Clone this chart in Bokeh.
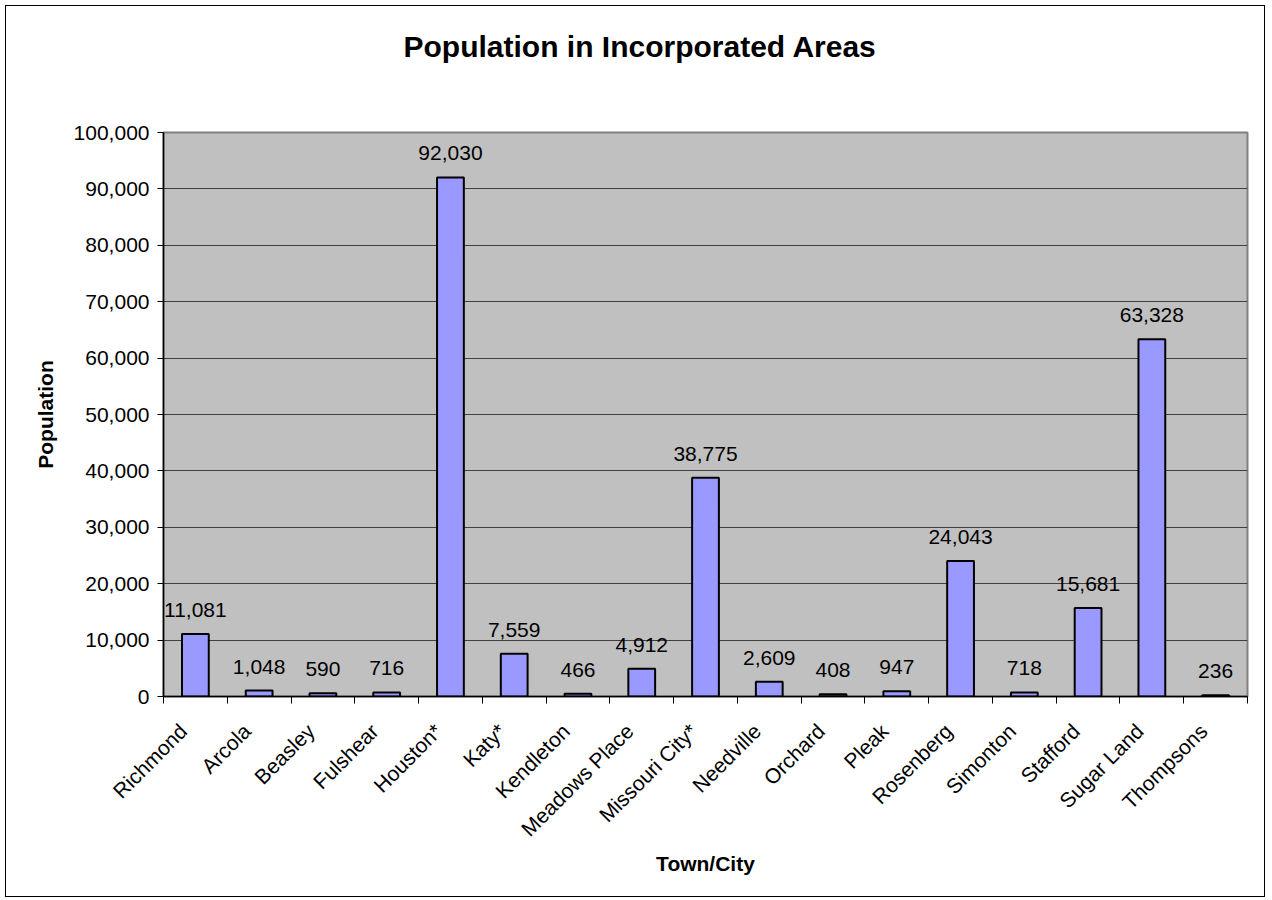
import math
from bokeh.plotting import figure
from bokeh.models import ColumnDataSource, FixedTicker, NumeralTickFormatter, Range1d, Title
from bokeh.core.properties import value
from bokeh.embed import file_html
from bokeh.resources import INLINE

towns = ["Richmond", "Arcola", "Beasley", "Fulshear", "Houston*", "Katy*", "Kendleton",
         "Meadows Place", "Missouri City*", "Needville", "Orchard", "Pleak", "Rosenberg",
         "Simonton", "Stafford", "Sugar Land", "Thompsons"]
population = [11081, 1048, 590, 716, 92030, 7559, 466, 4912, 38775, 2609, 408, 947,
              24043, 718, 15681, 63328, 236]
y_ticks = [0, 10000, 20000, 30000, 40000, 50000, 60000, 70000, 80000, 90000, 100000]
title_text = "Population in Incorporated Areas"

FONT = "Liberation Sans"
n = len(towns)
centers = [i + 0.5 for i in range(n)]
bounds = [float(i) for i in range(n + 1)]
label_pos = [c - 0.19 for c in centers]

src = ColumnDataSource(dict(x=centers, top=population,
                            label=[f"{v:,}" for v in population]))

W, H = 1260, 892
MBL, MBR, MBT, MBB = 157, 19, 126, 202
p = figure(width=W, height=H, output_backend="svg", toolbar_location=None,
           x_range=Range1d(0, n), y_range=Range1d(0, 100000),
           min_border_left=MBL, min_border_right=MBR, min_border_top=MBT, min_border_bottom=MBB,
           background_fill_color="#C0C0C0", border_fill_color="white")
p.styles = {"border": "1px solid black", "margin-left": "5px", "margin-top": "5px"}

# spacer between the frame and the title
p.add_layout(Title(text=" ", text_font_size="10px", standoff=52), "above")

p.title.text = title_text
p.title.text_font = FONT
p.title.text_font_size = "30px"
p.title.text_font_style = "bold"
p.title.text_color = "black"
p.title.align = "left"
p.title.offset = 240
p.title.standoff = 10

p.outline_line_color = "#808080"
p.outline_line_width = 2

p.vbar(x="x", top="top", width=0.42, bottom=0, source=src,
       fill_color="#9999FF", line_color="black", line_width=2)
p.text(x="x", y="top", text="label", source=src, text_align="center",
       text_baseline="alphabetic", y_offset=-24, text_font=value(FONT),
       text_font_size="21px", text_color="black")

# y axis
p.yaxis.ticker = FixedTicker(ticks=y_ticks)
p.yaxis.formatter = NumeralTickFormatter(format="0,0")
p.yaxis.major_tick_out = 6
p.yaxis.major_tick_in = 0
p.yaxis.minor_tick_line_color = None
p.yaxis.axis_line_color = "black"
p.yaxis.axis_line_width = 1.5
p.yaxis.major_tick_line_color = "black"
p.yaxis.major_label_text_font = FONT
p.yaxis.major_label_text_font_size = "21px"
p.yaxis.major_label_text_color = "black"
p.yaxis.major_label_standoff = 8
p.yaxis.axis_label = "Population"
p.yaxis.axis_label_text_font = FONT
p.yaxis.axis_label_text_font_size = "21px"
p.yaxis.axis_label_text_font_style = "bold"
p.yaxis.axis_label_text_color = "black"
p.yaxis.axis_label_standoff = 14

# x axis
p.xaxis.ticker = FixedTicker(ticks=label_pos, minor_ticks=bounds)
p.xaxis.major_label_overrides = {c: t for c, t in zip(label_pos, towns)}
p.xaxis.major_tick_line_color = None
p.xaxis.major_tick_out = 0
p.xaxis.major_tick_in = 0
p.xaxis.minor_tick_out = 7
p.xaxis.minor_tick_in = 0
p.xaxis.minor_tick_line_color = "black"
p.xaxis.axis_line_color = "black"
p.xaxis.axis_line_width = 1.5
p.xaxis.major_label_orientation = math.pi / 4
p.xaxis.major_label_text_font = FONT
p.xaxis.major_label_text_font_size = "21px"
p.xaxis.major_label_text_color = "black"
p.xaxis.major_label_standoff = 24
p.xaxis.axis_label = "Town/City"
p.xaxis.axis_label_text_font = FONT
p.xaxis.axis_label_text_font_size = "21px"
p.xaxis.axis_label_text_font_style = "bold"
p.xaxis.axis_label_text_color = "black"
p.xaxis.axis_label_standoff = 0

p.xgrid.grid_line_color = None
p.ygrid.ticker = FixedTicker(ticks=y_ticks)
p.ygrid.grid_line_color = "#404040"
p.ygrid.grid_line_width = 1

open("out.html", "w").write(file_html(p, INLINE))
